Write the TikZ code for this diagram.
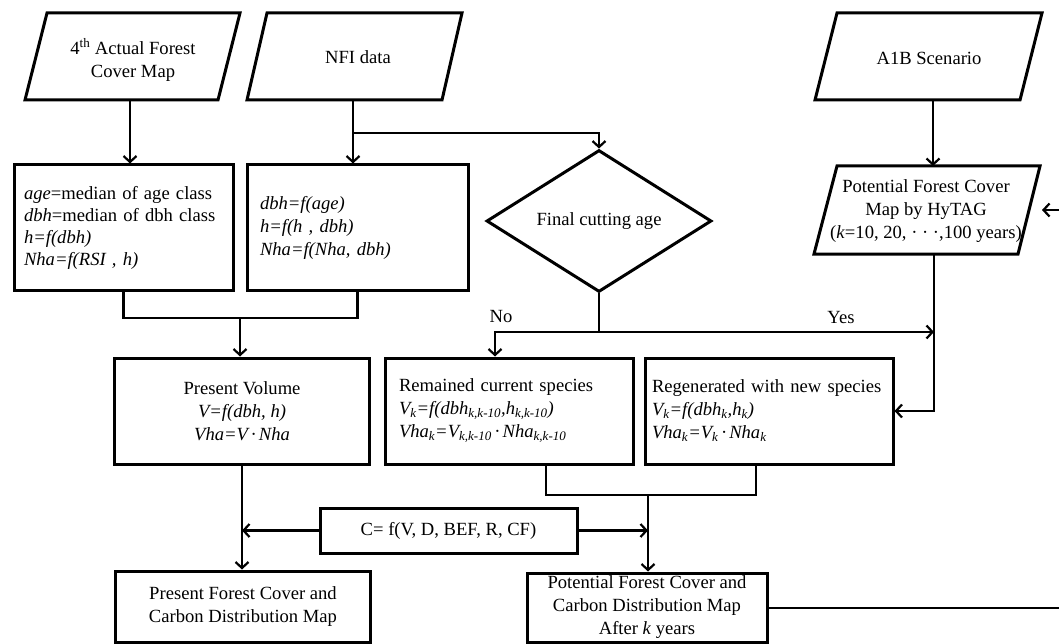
\documentclass[tikz,border=0pt]{standalone}
\usepackage{fontspec}
\setmainfont{Liberation Serif}
\usetikzlibrary{shapes.geometric,arrows.meta}
\newcommand\dfont{\fontsize{18.6}{23}\selectfont}
\begin{document}
\begin{tikzpicture}[x=1pt,y=-1pt,
  box/.style={draw,line width=3pt,inner sep=0pt,font=\dfont,align=center},
  lbox/.style={box,align=left,inner xsep=#1},
  para/.style={draw,line width=3pt,line join=miter},
  ptext/.style={font=\dfont,align=center,inner sep=0pt},
  conn/.style={line width=2.2pt},
  arr/.style={conn,-{Straight Barb[length=6pt,width=13pt,line width=2.2pt]}},
  lbl/.style={font=\dfont,inner sep=0pt}]
\useasboundingbox (0,0) rectangle (1059,644);

% parallelograms (inputs)
\draw[para] (47,13) -- (240,13) -- (218,100) -- (25,100) -- cycle;
\node[ptext] (p1) at (133,60) {4\textsuperscript{th} Actual Forest\\Cover Map};
\coordinate (p1s) at (130,100);

\draw[para] (267,13) -- (462,13) -- (442,100) -- (247,100) -- cycle;
\node[ptext] (p2) at (358,57) {NFI data};
\coordinate (p2s) at (353,100);

\draw[para] (837,13) -- (1042,13) -- (1020,100) -- (815,100) -- cycle;
\node[ptext] (p3) at (929,58) {A1B Scenario};
\coordinate (p3s) at (933,100);

\draw[para] (837,166) -- (1040,166) -- (1018,254) -- (814,254) -- cycle;
\node[ptext] (p4) at (926,211) {Potential Forest Cover\\Map by HyTAG\\(\textit{k}=10, 20, · · ·,100 years)};
\coordinate (p4n) at (933,166);
\coordinate (p4s) at (934,254);
\coordinate (p4e) at (1042,210);
\coordinate (fb) at (1059,210);

% process boxes
\node[lbox=10pt,text width=199pt,minimum height=125pt,font=\fontsize{18.6}{22}\selectfont] (ba) at (123.5,227.5)
  {\textit{age}=median of age class\\\textit{dbh}=median of dbh class\\\textit{h=f(dbh)}\\\textit{Nha=f(RSI , h)}};
\node[lbox=13pt,text width=195pt,minimum height=125pt] (bb) at (357.5,227.5)
  {\textit{dbh=f(age)}\\\textit{h=f(h , dbh)}\\\textit{Nha=f(Nha, dbh)}};

\node[box,diamond,minimum width=225pt,minimum height=112pt] (dia) at (599,221) {Final cutting age};

\node[box,minimum width=255pt,minimum height=106pt] (pv) at (242,411)
  {Present Volume\\\textit{V=f(dbh, h)}\\\textit{Vha=V\,·\,Nha}};
\node[lbox=14pt,text width=220pt,minimum height=106pt] (rc) at (509,411)
  {Remained current species\\\textit{V\textsubscript{k}=f(dbh\textsubscript{k,k-10},h\textsubscript{k,k-10})}\\\textit{Vha\textsubscript{k}=V\textsubscript{k,k-10}\,·\,Nha\textsubscript{k,k-10}}};
\node[lbox=7pt,text width=234pt,minimum height=106pt] (rg) at (769,411)
  {Regenerated with new species\\\textit{V\textsubscript{k}=f(dbh\textsubscript{k},h\textsubscript{k})}\\\textit{Vha\textsubscript{k}=V\textsubscript{k}\,·\,Nha\textsubscript{k}}};

\node[box,minimum width=257pt,minimum height=45pt] (cb) at (448.5,530.5) {C= f(V, D, BEF, R, CF)};

\node[box,minimum width=255pt,minimum height=71pt] (pf) at (243,606.5)
  {Present Forest Cover and\\Carbon Distribution Map};
\node[box,minimum width=240pt,minimum height=69pt] (pb) at (647,607.5)
  {Potential Forest Cover and\\Carbon Distribution Map\\After \textit{k} years};

% junction points
\coordinate (br) at (353,133);
\coordinate (m1) at (240,318);
\coordinate (j1) at (599,332);
\coordinate (nl) at (495,332);
\coordinate (yj) at (934,332);
\coordinate (m2) at (648,495);
\coordinate (rb) at (1059,608);

% connectors
\draw[arr] (p1s) -- (p1s |- ba.north);
\draw[arr] (p2s) -- (p2s |- bb.north);
\draw[arr] (br) -| (dia.north);
\draw[arr] (p3s) -- (p4n);
\draw[conn] (ba.south) |- (m1) -| (bb.south);
\draw[arr] (m1) -- (m1 |- pv.north);
\draw[conn] (dia.south) -- (j1);
\draw[arr] (j1) -- (nl) -- (nl |- rc.north);
\draw[arr] (j1) -- (yj);
\draw[arr] (p4s) |- (rg.east);
\draw[arr] (fb) -- (p4e);
\draw[conn] ([xshift=37pt]rc.south) |- (m2) -| ([xshift=-13pt]rg.south);
\draw[arr] (m2) -- (m2 |- pb.north);
\draw[arr] (cb.west) -- (cb.west -| pv.south);
\draw[arr] (cb.east) -- (cb.east -| m2);
\draw[arr] (pv.south) -- (pv.south |- pf.north);
\draw[conn] (pb.east |- rb) -- (rb);

% labels
\node[lbl] (no) at (501,317) {No};
\node[lbl] (yes) at (841,318) {Yes};
\end{tikzpicture}
\end{document}
